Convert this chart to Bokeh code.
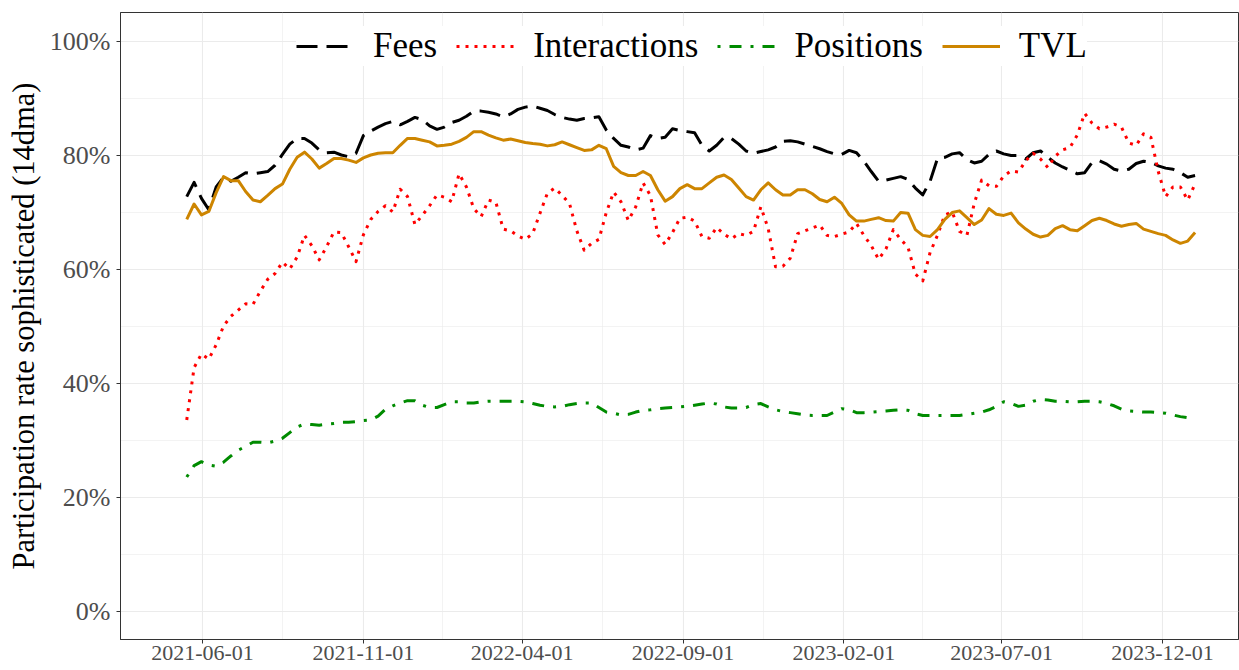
import pandas as pd
from datetime import datetime, timedelta
from bokeh.plotting import figure
from bokeh.models import (Range1d, FixedTicker, DatetimeTickFormatter,
                          PrintfTickFormatter, Legend, LegendItem)
from bokeh.embed import file_html
from bokeh.resources import INLINE

# ---------------- data (weekly) ----------------
dates = pd.date_range("2021-05-17", periods=138, freq="7D")

fees = [
    72.8, 75.3, 72.5, 70.5, 74.5, 76.2, 75.5, 76.2, 77.0, 76.8,
    77.0, 77.2, 78.3, 80.2, 82.0, 83.0, 83.0, 82.2, 81.0, 80.5,
    80.6, 80.1, 79.8, 80.4, 83.5, 84.3, 85.0, 85.6, 86.0, 85.4,
    86.0, 86.7, 86.3, 85.2, 84.6, 85.0, 85.8, 86.2, 86.9, 87.8,
    87.8, 87.6, 87.3, 86.8, 87.3, 88.1, 88.5, 88.7, 88.3, 87.9,
    87.2, 86.7, 86.4, 86.2, 86.5, 86.6, 86.8, 84.5, 83.0, 81.8,
    81.5, 81.0, 81.3, 83.5, 83.0, 83.2, 84.7, 84.4, 84.2, 84.0,
    81.8, 80.8, 81.8, 83.2, 83.0, 82.0, 80.8, 80.4, 80.7, 81.0,
    81.5, 82.5, 82.6, 82.4, 82.0, 81.6, 81.2, 80.7, 80.3, 80.2,
    80.9, 80.5, 79.0, 77.2, 75.5, 75.7, 76.0, 76.3, 75.8, 74.3,
    73.1, 75.5, 79.5, 79.7, 80.3, 80.5, 79.3, 78.7, 79.0, 80.2,
    80.8, 80.3, 80.0, 80.0, 79.4, 80.5, 80.8, 79.7, 78.7, 78.0,
    77.4, 76.8, 77.0, 78.8, 79.1, 78.5, 77.6, 77.3, 77.6, 78.6,
    79.0, 78.8, 78.2, 77.8, 77.6, 77.0, 76.2, 76.5,
]

interactions = [
    33.6, 42.8, 45.2, 44.3, 46.8, 50.1, 51.8, 52.9, 54.0, 53.9,
    56.2, 58.3, 59.3, 61.3, 60.1, 62.2, 66.0, 64.2, 61.7, 64.0,
    66.6, 66.5, 64.0, 61.4, 66.1, 68.8, 70.2, 71.2, 70.1, 74.1,
    72.8, 67.9, 69.5, 71.2, 73.1, 72.7, 71.9, 76.8, 74.5, 70.7,
    69.3, 72.2, 71.8, 67.1, 66.8, 65.9, 65.3, 66.3, 69.9, 73.4,
    74.3, 73.0, 71.6, 66.8, 63.4, 64.6, 65.3, 70.0, 73.6, 71.9,
    68.6, 71.0, 75.2, 73.0, 66.1, 64.4, 66.5, 69.0, 69.2, 68.5,
    65.8, 65.5, 67.4, 66.2, 65.4, 66.3, 66.0, 66.7, 71.0, 67.2,
    60.5, 60.6, 62.0, 66.3, 66.8, 67.3, 67.8, 66.0, 65.8, 66.2,
    66.6, 68.1, 66.0, 64.2, 61.8, 63.6, 67.0, 65.3, 63.9, 59.2,
    58.0, 63.0, 66.0, 69.6, 70.1, 66.7, 66.0, 71.6, 75.7, 74.7,
    74.6, 76.4, 77.3, 77.1, 79.1, 80.4, 79.4, 77.9, 79.9, 81.0,
    81.4, 83.6, 87.4, 85.7, 84.7, 85.0, 85.5, 85.0, 82.2, 81.8,
    83.8, 83.2, 77.2, 72.8, 74.5, 74.5, 72.2, 75.0,
]

positions = [
    23.6, 25.6, 26.3, 25.7, 25.5, 26.2, 27.3, 28.3, 29.0, 29.7,
    29.7, 29.6, 29.9, 30.4, 31.4, 32.4, 32.9, 32.8, 32.7, 32.9,
    33.0, 33.2, 33.2, 33.3, 33.5, 33.6, 34.3, 35.5, 36.1, 36.6,
    37.0, 37.0, 36.2, 35.8, 35.8, 36.3, 36.8, 36.8, 36.6, 36.6,
    36.8, 36.9, 36.9, 36.9, 36.9, 36.9, 36.8, 36.5, 36.2, 36.0,
    35.9, 36.0, 36.3, 36.5, 36.6, 36.6, 35.8, 35.0, 34.8, 34.5,
    34.6, 35.0, 35.3, 35.4, 35.6, 35.7, 35.8, 35.9, 36.0, 36.2,
    36.4, 36.6, 36.4, 35.9, 35.7, 35.7, 35.8, 36.3, 36.5, 35.9,
    35.4, 35.1, 34.9, 34.7, 34.5, 34.4, 34.4, 34.4, 35.0, 35.6,
    35.4, 34.9, 34.9, 35.0, 35.1, 35.2, 35.3, 35.4, 35.3, 34.7,
    34.4, 34.4, 34.4, 34.4, 34.4, 34.4, 34.6, 34.8, 35.0, 35.4,
    36.0, 36.8, 36.5, 36.0, 36.2, 36.9, 37.2, 37.1, 36.9, 36.9,
    36.8, 36.8, 36.9, 36.9, 36.8, 36.5, 36.1, 35.5, 35.2, 35.1,
    35.0, 35.0, 34.9, 34.8, 34.5, 34.2, 34.0, 33.5,
]

tvl = [
    68.8, 71.5, 69.6, 70.2, 73.5, 76.3, 75.6, 75.6, 73.7, 72.2,
    71.9, 73.0, 74.2, 75.0, 77.6, 79.7, 80.6, 79.4, 77.8, 78.6,
    79.5, 79.5, 79.2, 78.8, 79.6, 80.1, 80.4, 80.5, 80.5, 81.8,
    83.0, 83.0, 82.7, 82.4, 81.7, 81.8, 82.0, 82.5, 83.2, 84.2,
    84.2, 83.6, 83.1, 82.7, 82.9, 82.6, 82.3, 82.1, 82.0, 81.7,
    81.9, 82.4, 81.9, 81.4, 80.9, 81.0, 81.8, 81.2, 78.1, 77.0,
    76.5, 76.5, 77.2, 76.5, 74.0, 72.0, 72.8, 74.2, 74.9, 74.2,
    74.2, 75.2, 76.2, 76.6, 75.8, 74.3, 72.8, 72.2, 74.0, 75.2,
    74.0, 73.1, 73.1, 74.0, 74.0, 73.3, 72.3, 71.9, 72.7, 71.6,
    69.6, 68.5, 68.5, 68.8, 69.1, 68.6, 68.5, 70.0, 69.9, 67.0,
    66.0, 65.8, 67.0, 68.8, 70.0, 70.3, 69.1, 67.9, 68.7, 70.7,
    69.7, 69.5, 69.9, 68.2, 67.1, 66.2, 65.7, 66.0, 67.2, 67.7,
    67.0, 66.8, 67.7, 68.6, 69.0, 68.6, 68.0, 67.6, 67.9, 68.1,
    67.1, 66.7, 66.3, 66.0, 65.2, 64.6, 65.0, 66.5,
]

x_tick_labels = ["2021-06-01", "2021-11-01", "2022-04-01", "2022-09-01",
                 "2023-02-01", "2023-07-01", "2023-12-01"]
y_ticks = [0, 20, 40, 60, 80, 100]
y_minor = [10, 30, 50, 70, 90]
series_names = ["Fees", "Interactions", "Positions", "TVL"]

# ---------------- figure ----------------
FONT = "Liberation Serif"

def ms(d):
    return pd.Timestamp(d).value / 1e6

major = [ms(d) for d in x_tick_labels]
minor = [(a + b) / 2 for a, b in zip(major[:-1], major[1:])]

x_start = datetime(2021, 6, 1) - timedelta(days=78)
x_end = datetime(2023, 12, 1) + timedelta(days=72.3)

p = figure(width=1239, height=670, x_axis_type="datetime",
           x_range=Range1d(x_start, x_end), y_range=Range1d(-4.9, 105.1),
           output_backend="svg", toolbar_location=None,
           min_border_left=120, min_border_right=1, min_border_top=12,
           min_border_bottom=31)

p.background_fill_color = "white"
p.border_fill_color = "white"
p.outline_line_color = "#333333"
p.outline_line_width = 1

xaxis = p.xaxis[0]
yaxis = p.yaxis[0]
xaxis.ticker = FixedTicker(ticks=major, minor_ticks=minor)
fmt = "%Y-%m-%d"
xaxis.formatter = DatetimeTickFormatter(
    microseconds=fmt, milliseconds=fmt, seconds=fmt, minsec=fmt, minutes=fmt,
    hourmin=fmt, hours=fmt, days=fmt, months=fmt, years=fmt)
yaxis.ticker = FixedTicker(ticks=y_ticks, minor_ticks=y_minor)
yaxis.formatter = PrintfTickFormatter(format="%d%%")

for ax in (xaxis, yaxis):
    ax.axis_line_color = "#333333"
    ax.axis_line_width = 1
    ax.major_tick_line_color = "#333333"
    ax.major_tick_out = 4
    ax.major_tick_in = 0
    ax.minor_tick_line_color = None
    ax.major_label_text_font = FONT
    ax.major_label_text_color = "#4D4D4D"

xaxis.major_label_text_font_size = "22px"
xaxis.major_label_standoff = 2
yaxis.major_label_text_font_size = "26px"
yaxis.major_label_standoff = 6
yaxis.axis_label = "Participation rate sophisticated (14dma)"
yaxis.axis_label_text_font = FONT
yaxis.axis_label_text_font_size = "30.5px"
yaxis.axis_label_text_font_style = "normal"
yaxis.axis_label_text_color = "black"
yaxis.axis_label_standoff = 6

for g in (p.xgrid[0], p.ygrid[0]):
    g.grid_line_color = "#EBEBEB"
    g.grid_line_width = 1.1
    g.minor_grid_line_color = "#EBEBEB"
    g.minor_grid_line_width = 0.6

r_fees = p.line(dates, fees, line_color="black", line_width=3,
                line_dash="21 9", line_join="round")
r_int = p.line(dates, interactions, line_color="#FF0000", line_width=3,
               line_dash="3 6", line_join="round")
r_pos = p.line(dates, positions, line_color="#008B00", line_width=3,
               line_dash="3 9 12 9", line_join="round")
r_tvl = p.line(dates, tvl, line_color="#CD8500", line_width=3,
               line_join="round")

legend = Legend(
    items=[LegendItem(label=n, renderers=[r]) for n, r in
           zip(series_names, [r_fees, r_int, r_pos, r_tvl])],
    orientation="horizontal", location=(176, 573),
    label_text_font=FONT, label_text_font_size="35px",
    label_text_color="black",
    glyph_width=58, glyph_height=30, label_standoff=19, spacing=19,
    padding=8, margin=0, border_line_color=None,
    background_fill_color="white", background_fill_alpha=1.0,
)
p.add_layout(legend)

open("out.html", "w").write(file_html(p, INLINE))
